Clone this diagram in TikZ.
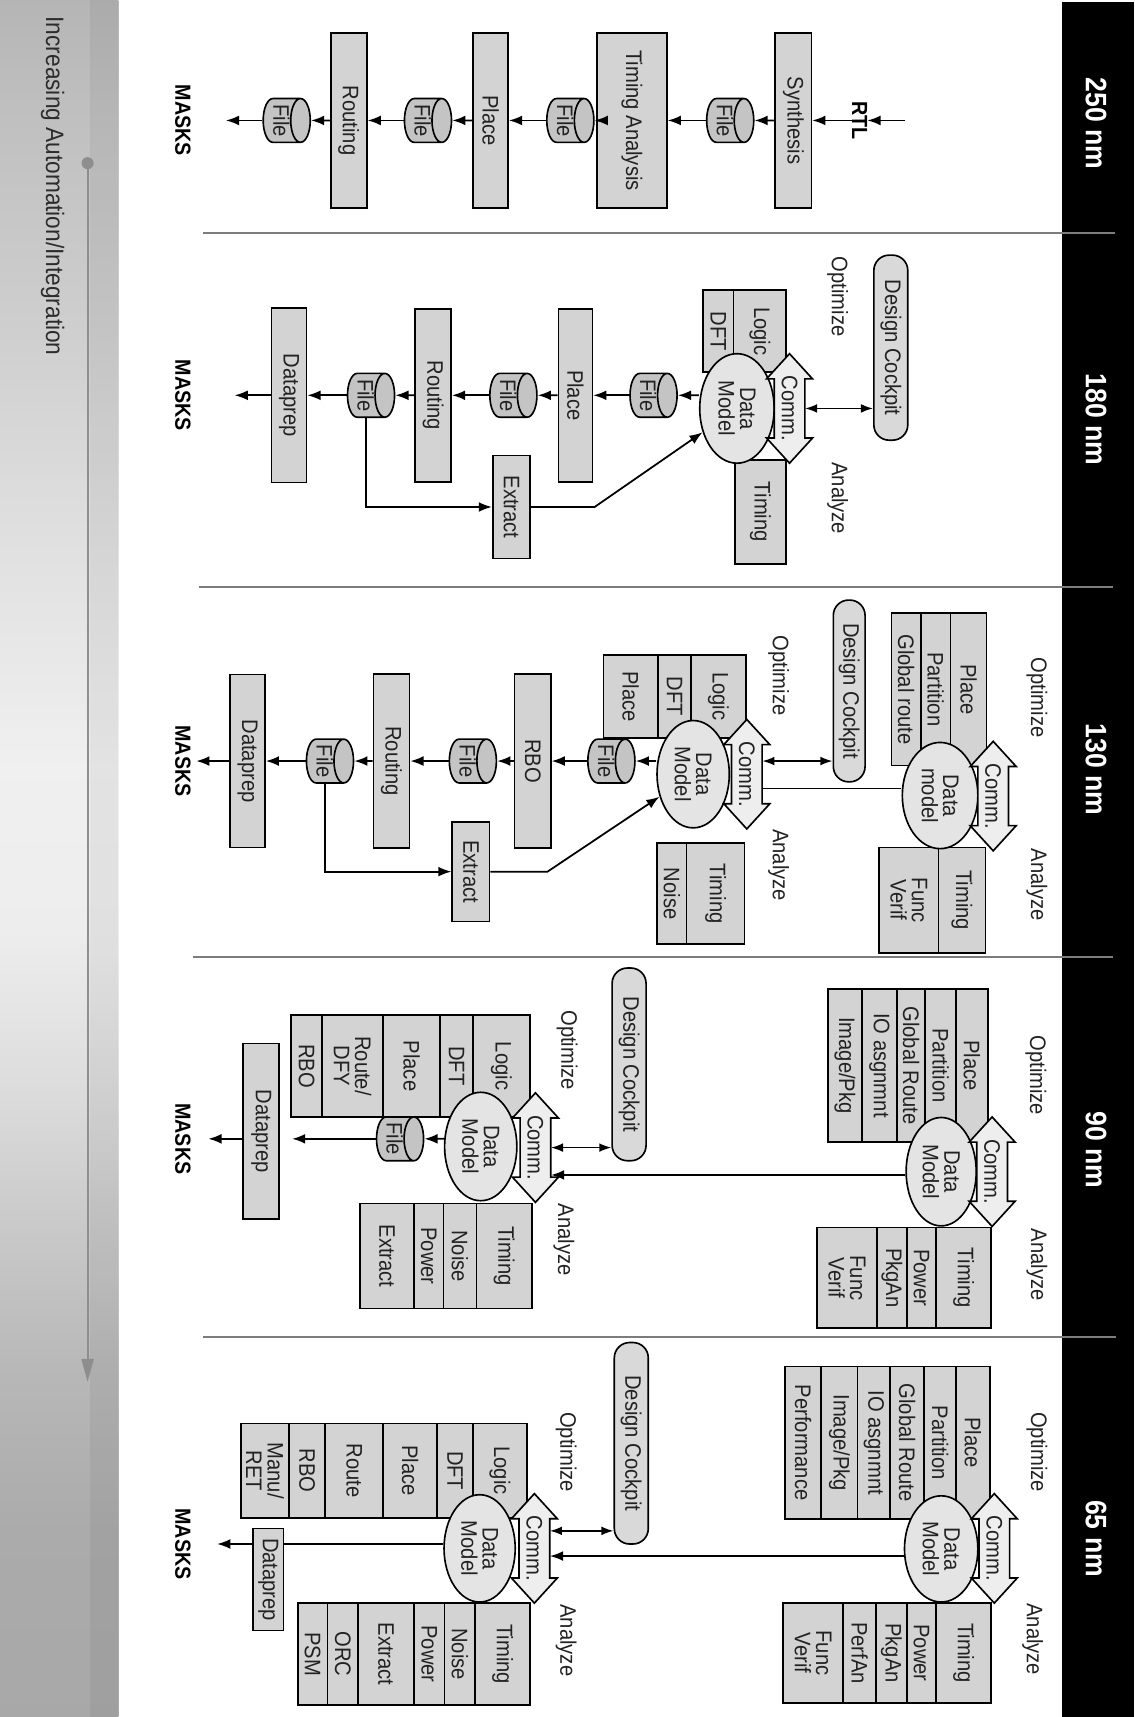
\documentclass[tikz,border=0pt]{standalone}
\usepackage{fontspec}
\setmainfont{Liberation Sans}[FakeStretch=0.9]
\usetikzlibrary{shapes.geometric,arrows.meta}

\definecolor{boxfill}{HTML}{D3D3D3}
\definecolor{filefill}{HTML}{C4C4C4}
\definecolor{dmfill}{HTML}{E4E4E4}
\definecolor{commfill}{HTML}{EEEEEE}
\definecolor{cockfill}{HTML}{D9D9D9}
\definecolor{inkcol}{HTML}{222222}
\definecolor{sepcol}{HTML}{7C7C7C}
\definecolor{barArrow}{HTML}{8E8E8E}
\definecolor{barText}{HTML}{2C2C2C}

% side bar: darker at both ends, almost white in the middle
\pgfdeclareverticalshading{barshade}{100bp}{%
  color(0bp)=(black!34); color(25bp)=(black!34); color(30.4bp)=(black!33);
  color(35.1bp)=(black!28); color(39.9bp)=(black!20); color(43.1bp)=(black!14);
  color(47.9bp)=(black!7); color(52.7bp)=(black!6); color(59.1bp)=(black!12);
  color(65.4bp)=(black!19); color(71.8bp)=(black!25); color(75bp)=(black!29);
  color(100bp)=(black!29)}

\newcommand\lblfont{\fontsize{20.5}{19.5}\selectfont}
\newcommand\hdrfont{\fontsize{27}{30}\selectfont\bfseries}
\newcommand\maskfont{\fontsize{20}{22}\selectfont\bfseries}
\newcommand\barfont{\fontsize{23}{25}\selectfont}

% outline of a "Comm." double arrow centred at (#1,#2), running along the page height
\newcommand\commarrow[2]{%
  \draw[shift={(#1,#2)}, line width=1.5pt, fill=commfill, line join=miter]
    (0,50) -- (21,27) -- (14,27) -- (14,-27) -- (21,-27) -- (0,-50)
    -- (-21,-27) -- (-14,-27) -- (-14,27) -- (-21,27) -- cycle;}

\begin{document}
\begin{tikzpicture}[x=1pt, y=1pt,
  sz/.style 2 args={minimum width=#1pt, minimum height=#2pt},
  box/.style={rectangle, draw=black, line width=1.5pt, fill=boxfill, rotate=-90,
    inner sep=0pt, align=center, font=\lblfont, text=inkcol},
  filenode/.style={cylinder, shape border rotate=90, aspect=0.6, draw=black,
    line width=1.5pt, fill=filefill, rotate=-90, inner sep=0pt,
    minimum width=40pt, minimum height=43pt, font=\lblfont, text=inkcol},
  datamodel/.style={ellipse, draw=black, line width=1.5pt, fill=dmfill, rotate=-90,
    inner sep=0pt, align=center, font=\lblfont, text=inkcol},
  cockpit/.style={rectangle, rounded corners=14pt, draw=black, line width=1.5pt,
    fill=cockfill, rotate=-90, inner sep=0pt, font=\lblfont, text=inkcol},
  commtext/.style={rectangle, rotate=-90, inner sep=0pt, minimum width=54pt,
    minimum height=28pt, font=\lblfont, text=inkcol},
  phase/.style={rotate=-90, font=\lblfont, text=inkcol, inner sep=0pt},
  masks/.style={rotate=-90, font=\maskfont, text=black, inner sep=0pt},
  header/.style={rotate=-90, font=\hdrfont, text=white, inner sep=0pt},
  flow/.style={line width=1.6pt, -{Latex[length=12pt,width=9pt]}},
  twoway/.style={line width=1.4pt, {Latex[length=11pt,width=8pt]}-{Latex[length=11pt,width=8pt]}},
  link/.style={line width=1.6pt},
]
\useasboundingbox (0,0) rectangle (1036,-1568);
\fill[white] (0,0) rectangle (1036,-1568);

% ---------- side bar ----------
\fill[shading=barshade] (0,0) rectangle (108,-1568);
\fill[black, opacity=0.05] (82,0) rectangle (108,-1568);
\node[rotate=-90, font=\barfont, text=barText, inner sep=0pt] (trend) at (48,-170)
  {Increasing Automation/Integration};
\coordinate (autoTop) at (80,-149);
\coordinate (autoEnd) at (80,-1262);
\draw[barArrow, line width=2pt, -{Triangle[length=21pt,width=11pt]}] (autoTop) -- (autoEnd);
\fill[barArrow] (autoTop) circle (5.5pt);

% ---------- header bar ----------
\fill[black] (970,-2) rectangle (1036,-1568);
\node[header] (h250) at (1001,-113) {250 nm};
\node[header] (h180) at (1001,-383) {180 nm};
\node[header] (h130) at (1001,-703) {130 nm};
\node[header] (h90)  at (1001,-1050) {90 nm};
\node[header] (h65)  at (1001,-1405) {65 nm};

% ---------- column separators ----------
\begin{scope}[sepcol, line width=2.2pt]
  \draw (185,-213) -- (1018,-213);
  \draw (182,-536) -- (1016,-536);
  \draw (176,-874) -- (1016,-874);
  \draw (185,-1221) -- (1019,-1221);
\end{scope}

% ================= 250 nm =================
\node[box, sz={160}{33}] (synth250) at (724.5,-110) {Synthesis};
\node[filenode] (file250a) at (662,-110) {File};
\node[box, sz={160}{64}] (ta250) at (577,-110) {Timing Analysis};
\node[filenode] (file250b) at (516,-110) {File};
\node[box, sz={160}{32}] (place250) at (448,-110) {Place};
\node[filenode] (file250c) at (386,-110) {File};
\node[box, sz={160}{33}] (rout250) at (318.5,-110) {Routing};
\node[filenode] (file250d) at (257,-110) {File};
\node[masks] (masks250) at (167,-110) {MASKS};
\node[masks] (rtl250) at (785,-110) {RTL};
\coordinate (rtlIn) at (826,-110);

\draw[flow] (rtlIn) -- (rtl250);
\draw[flow] (rtl250) -- (synth250);
\draw[flow] (synth250) -- (file250a);
\draw[flow] (file250a) -- (ta250);
\draw[flow] (ta250) -- (file250b);
\draw[flow] (file250b) -- (place250);
\draw[flow] (place250) -- (file250c);
\draw[flow] (file250c) -- (rout250);
\draw[flow] (rout250) -- (file250d);
\draw[flow, shorten >=32pt] (file250d) -- (masks250);

% ================= 180 nm =================
\node[cockpit, sz={169}{31}] (cock180) at (813.5,-317.5) {Design Cockpit};
\node[phase] (opt180) at (765,-271) {Optimize};
\node[phase] (anl180) at (765,-455) {Analyze};
\node[box, sz={75}{48}] (logic180) at (694,-302.5) {Logic};
\node[box, sz={75}{28}] (dft180) at (656,-302.5) {DFT};
\node[box, sz={95}{47}] (tim180) at (694.5,-467.5) {Timing};
\node[datamodel, sz={100}{68}] (dm180) at (673,-373) {Data\\Model};
\commarrow{721}{-373}
\node[commtext] (comm180) at (721,-373) {Comm.};
\node[filenode] (file180a) at (592,-361) {File};
\node[box, sz={158}{31}] (place180) at (525.5,-361) {Place};
\node[filenode] (file180b) at (464,-361) {File};
\node[box, sz={158}{33}] (rout180) at (395.5,-361) {Routing};
\node[filenode] (file180c) at (334,-361) {File};
\node[box, sz={159}{32}] (dprep180) at (264,-361) {Dataprep};
\node[masks] (masks180) at (167,-361) {MASKS};
\node[box, sz={94}{34}] (ext180) at (467,-463) {Extract};
\coordinate (k180a) at (334,-463);
\coordinate (k180b) at (543,-463);

\draw[twoway] (comm180.north) -- (cock180.south |- comm180.north);
\draw[flow] (file180a -| dm180.south) -- (file180a);
\draw[flow] (file180a) -- (place180);
\draw[flow] (place180) -- (file180b);
\draw[flow] (file180b) -- (rout180);
\draw[flow] (rout180) -- (file180c);
\draw[flow] (file180c) -- (dprep180);
\draw[flow, shorten >=40pt] (dprep180) -- (masks180);
\draw[flow] (file180c) -- (k180a) -- (ext180);
\draw[flow] (ext180) -- (k180b) -- (dm180);

% ================= 130 nm =================
% lower level
\node[cockpit, sz={166}{29}] (cock130) at (775.5,-631) {Design Cockpit};
\node[phase] (opt130) at (711,-617) {Optimize};
\node[phase] (anl130) at (711,-790) {Analyze};
\node[box, sz={76}{50}] (logic130) at (656,-636) {Logic};
\node[box, sz={76}{30}] (dft130) at (616,-636) {DFT};
\node[box, sz={76}{50}] (place130) at (576,-636) {Place};
\node[box, sz={92}{53}] (tim130) at (653.5,-816) {Timing};
\node[box, sz={92}{27}] (noise130) at (613.5,-816) {Noise};
\node[datamodel, sz={98}{66}] (dm130) at (633,-707) {Data\\Model};
\commarrow{682}{-707}
\node[commtext] (comm130) at (682,-707) {Comm.};
\node[filenode] (file130a) at (553.5,-695) {File};
\node[box, sz={159}{33}] (rbo130) at (486.5,-695) {RBO};
\node[filenode] (file130b) at (427,-695) {File};
\node[box, sz={159}{33}] (rout130) at (357.5,-695) {Routing};
\node[filenode] (file130c) at (296.5,-695) {File};
\node[box, sz={158}{32}] (dprep130) at (226,-695) {Dataprep};
\node[masks] (masks130) at (167,-695) {MASKS};
\node[box, sz={91}{34}] (ext130) at (430,-796) {Extract};
\coordinate (k130a) at (296.5,-796);
\coordinate (k130b) at (500,-796);
% upper level
\node[box, sz={139}{33}] (place130u) at (884.5,-629.5) {Place};
\node[box, sz={139}{27}] (part130u) at (854.5,-629.5) {Partition};
\node[box, sz={139}{27}] (grt130u) at (827.5,-629.5) {Global route};
\node[box, sz={96}{43}] (tim130u) at (878.5,-822) {Timing};
\node[box, sz={96}{54}] (fv130u) at (830,-822) {Func\\Verif};
\node[datamodel, sz={97}{69}] (dm130u) at (858.5,-726.5) {Data\\model};
\commarrow{907}{-727}
\node[commtext] (comm130u) at (907,-727) {Comm.};
\node[phase] (opt130u) at (947,-637) {Optimize};
\node[phase] (anl130u) at (947,-808) {Analyze};
\coordinate (lvl130) at (0,-720);

\draw[twoway] (comm130.north |- file130a) -- (cock130.south |- file130a);
\draw[link] (comm130.north |- lvl130) -- (dm130u.south |- lvl130);
\draw[flow] (file130a -| dm130.south) -- (file130a);
\draw[flow] (file130a) -- (rbo130);
\draw[flow] (rbo130) -- (file130b);
\draw[flow] (file130b) -- (rout130);
\draw[flow] (rout130) -- (file130c);
\draw[flow] (file130c) -- (dprep130);
\draw[flow, shorten >=5pt] (dprep130) -- (masks130);
\draw[flow] (file130c) -- (k130a) -- (ext130);
\draw[flow] (ext130) -- (k130b) -- (dm130);

% ================= 90 nm =================
% lower level
\node[cockpit, sz={176}{31}] (cock90) at (574.5,-972) {Design Cockpit};
\node[phase] (opt90) at (518,-959) {Optimize};
\node[phase] (anl90) at (515,-1132) {Analyze};
\node[box, sz={93}{52}] (logic90) at (458,-973.5) {Logic};
\node[box, sz={93}{30}] (dft90) at (417,-973.5) {DFT};
\node[box, sz={93}{52}] (place90) at (376,-973.5) {Place};
\node[box, sz={93}{56}] (rdfy90) at (322,-973.5) {Route/\\DFY};
\node[box, sz={93}{28}] (rbo90) at (280,-973.5) {RBO};
\node[box, sz={96}{51}] (tim90) at (460.5,-1147) {Timing};
\node[box, sz={96}{30}] (noise90) at (420,-1147) {Noise};
\node[box, sz={96}{27}] (pow90) at (391.5,-1147) {Power};
\node[box, sz={96}{49}] (ext90) at (353.5,-1147) {Extract};
\node[datamodel, sz={99}{66}] (dm90) at (439,-1047) {Data\\Model};
\commarrow{489}{-1048}
\node[commtext] (comm90) at (489,-1048) {Comm.};
\node[filenode] (file90) at (360.5,-1040) {File};
\node[box, sz={160}{33}] (dprep90) at (238.5,-1033) {Dataprep};
\node[masks] (masks90) at (167,-1040) {MASKS};
% upper level
\node[box, sz={140}{29}] (place90u) at (887.5,-973) {Place};
\node[box, sz={140}{28}] (part90u) at (859,-973) {Partition};
\node[box, sz={140}{26}] (grt90u) at (832,-973) {Global Route};
\node[box, sz={140}{32}] (io90u) at (803,-973) {IO asgnmnt};
\node[box, sz={140}{31}] (img90u) at (771.5,-973) {Image/Pkg};
\node[box, sz={92}{50}] (tim90u) at (880,-1167) {Timing};
\node[box, sz={92}{27}] (pow90u) at (841.5,-1167) {Power};
\node[box, sz={92}{27}] (pkg90u) at (814.5,-1167) {PkgAn};
\node[box, sz={92}{55}] (fv90u) at (773.5,-1167) {Func\\Verif};
\node[datamodel, sz={99}{64}] (dm90u) at (859.5,-1070) {Data\\Model};
\commarrow{906}{-1070}
\node[commtext] (comm90u) at (906,-1070) {Comm.};
\node[phase] (opt90u) at (946,-982) {Optimize};
\node[phase] (anl90u) at (947,-1155) {Analyze};
\coordinate (lvl90) at (0,-1073);

\draw[twoway] (comm90.north) -- (cock90.south |- comm90.north);
\draw[flow] (dm90u.south |- lvl90) -- (comm90.north |- lvl90);
\draw[flow] (file90 -| dm90.south) -- (file90);
\draw[flow, shorten >=11pt] (file90) -- (dprep90.north |- file90);
\draw[flow, shorten >=16pt] (dprep90.south |- file90) -- (masks90);

% ================= 65 nm =================
% lower level
\node[cockpit, sz={184}{31}] (cock65) at (576.5,-1318) {Design Cockpit};
\node[phase] (opt65) at (517,-1326) {Optimize};
\node[phase] (anl65) at (517,-1498) {Analyze};
\node[box, sz={86}{49}] (logic65) at (456.5,-1343) {Logic};
\node[box, sz={86}{33}] (dft65) at (415.5,-1343) {DFT};
\node[box, sz={86}{49}] (place65) at (374.5,-1343) {Place};
\node[box, sz={86}{53}] (route65) at (323.5,-1343) {Route};
\node[box, sz={86}{33}] (rbo65) at (280.5,-1343) {RBO};
\node[box, sz={86}{44}] (manu65) at (242,-1343) {Manu/\\RET};
\node[box, sz={93}{50}] (tim65) at (459,-1510.5) {Timing};
\node[box, sz={93}{28}] (noise65) at (420,-1510.5) {Noise};
\node[box, sz={93}{28}] (pow65) at (392,-1510.5) {Power};
\node[box, sz={93}{51}] (ext65) at (352.5,-1510.5) {Extract};
\node[box, sz={93}{28}] (orc65) at (313,-1510.5) {ORC};
\node[box, sz={93}{27}] (psm65) at (285.5,-1510.5) {PSM};
\node[datamodel, sz={98}{65}] (dm65) at (438,-1414) {Data\\Model};
\commarrow{488}{-1414}
\node[commtext] (comm65) at (488,-1414) {Comm.};
\node[box, sz={93}{28}] (dprep65) at (245,-1442.5) {Dataprep};
\node[masks] (masks65) at (167,-1410) {MASKS};
% upper level
\node[box, sz={139}{31}] (place65u) at (888.5,-1317.5) {Place};
\node[box, sz={139}{29}] (part65u) at (858.5,-1317.5) {Partition};
\node[box, sz={139}{31}] (grt65u) at (828.5,-1317.5) {Global Route};
\node[box, sz={139}{30}] (io65u) at (798,-1317.5) {IO asgnmnt};
\node[box, sz={139}{33}] (img65u) at (766.5,-1317.5) {Image/Pkg};
\node[box, sz={139}{33}] (perf65u) at (733.5,-1317.5) {Performance};
\node[box, sz={91}{50}] (tim65u) at (880,-1509.5) {Timing};
\node[box, sz={91}{27}] (pow65u) at (841.5,-1509.5) {Power};
\node[box, sz={91}{28}] (pkg65u) at (814,-1509.5) {PkgAn};
\node[box, sz={91}{30}] (pfa65u) at (785,-1509.5) {PerfAn};
\node[box, sz={91}{55}] (fv65u) at (742.5,-1509.5) {Func\\Verif};
\node[datamodel, sz={97}{67}] (dm65u) at (859.5,-1414.5) {Data\\Model};
\commarrow{908}{-1414}
\node[commtext] (comm65u) at (908,-1414) {Comm.};
\node[phase] (opt65u) at (947,-1326) {Optimize};
\node[phase] (anl65u) at (943,-1497) {Analyze};
\coordinate (lvl65a) at (0,-1398);
\coordinate (lvl65b) at (0,-1421);

\draw[twoway] (comm65.north |- lvl65a) -- (cock65.south |- lvl65a);
\draw[flow] (dm65u.south |- lvl65b) -- (comm65.north |- lvl65b);
\draw[link] (dm65.south |- masks65) -- (dprep65.north |- masks65);
\draw[flow, shorten >=24pt] (dprep65.south |- masks65) -- (masks65);

\end{tikzpicture}
\end{document}
